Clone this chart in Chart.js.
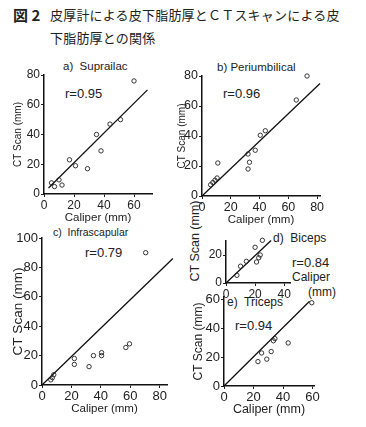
<!DOCTYPE html>
<html>
<head>
<meta charset="utf-8">
<script src="https://cdn.jsdelivr.net/npm/chart.js@4.4.0/dist/chart.umd.min.js"></script>
<style>
  html, body { margin: 0; padding: 0; background: #fff; }
  body { width: 366px; height: 427px; position: relative; overflow: hidden;
         font-family: "Liberation Sans", Arial, sans-serif; color: #222; }
  .txt { position: absolute; white-space: nowrap; line-height: 1; transform: translateY(-50%); }
  .vt  { position: absolute; white-space: nowrap; line-height: 1; transform: translate(-50%, -50%) rotate(-90deg); }
  .jp  { position: absolute; white-space: nowrap; font-family: "Noto Sans CJK JP", sans-serif;
         color: #222; line-height: 16px; }
</style>
</head>
<body>
<div class="jp" style="left:13px;top:7px;font-size:15px;font-weight:bold;">図 2</div>
<div class="jp" style="left:50px;top:7px;font-size:13px;letter-spacing:0.2px;">皮厚計による皮下脂肪厚とＣＴスキャンによる皮</div>
<div class="jp" style="left:50px;top:30px;font-size:13px;letter-spacing:0.2px;">下脂肪厚との関係</div>

<div class="txt" style="left:63px;top:67px;font-size:11.5px;">a)&nbsp; Suprailac</div>
<div class="txt" style="left:65px;top:93px;font-size:13px;">r=0.95</div>
<div class="txt" style="left:217px;top:68px;font-size:11.5px;">b) Periumbilical</div>
<div class="txt" style="left:223px;top:93px;font-size:13px;">r=0.96</div>
<div class="txt" style="left:53px;top:232px;font-size:10.5px;">c)&nbsp; Infrascapular</div>
<div class="txt" style="left:85px;top:252px;font-size:13px;">r=0.79</div>
<div class="txt" style="left:273px;top:238px;font-size:12px;">d)&nbsp;&nbsp;Biceps</div>
<div class="txt" style="left:292px;top:262px;font-size:13px;">r=0.84</div>
<div class="txt" style="left:292px;top:277px;font-size:12px;">Caliper</div>
<div class="txt" style="left:308px;top:292px;font-size:12px;">(mm)</div>
<div class="vt"  style="left:195px;top:241px;font-size:12.5px;">CT Scan (mm)</div>
<div class="txt" style="left:227px;top:302px;font-size:12px;">e)&nbsp; Triceps</div>
<div class="txt" style="left:235px;top:325px;font-size:13px;">r=0.94</div>

<script>
// a) Suprailac
const supX = [60, 51, 44, 35, 38, 17, 21, 29, 10, 5, 7, 12];
const supY = [76, 50, 47, 40, 29, 23, 19, 17, 9.5, 7.5, 5, 6];
const supFitX = [3, 69];
const supFitY = [4, 70];

// b) Periumbilical
const perX = [73, 65.5, 44, 40.5, 37, 32, 33, 32, 11, 10.5, 9, 7.5, 6];
const perY = [80, 64, 43.5, 40.5, 30.5, 28, 22.5, 18, 22, 12, 10.5, 9, 7.5];
const perFitX = [0, 82];
const perFitY = [0, 75];

// c) Infrascapular
const infX = [70.5, 59.5, 57, 40.5, 40.5, 35, 32, 22, 22, 8, 7, 6];
const infY = [90, 28, 25.5, 22, 20, 20, 12.5, 18, 14, 7, 5, 3.5];
const infFitX = [0, 89];
const infFitY = [0, 86];

// d) Biceps
const bicX = [25, 20, 23.5, 22.5, 21, 14, 10, 7.5];
const bicY = [30.5, 25.5, 20, 18, 15, 15.5, 12, 5.5];
const bicFitX = [0, 31];
const bicFitY = [0, 30.4];

// e) Triceps
const triX = [59.5, 43.5, 34.5, 33.5, 32, 25.5, 29, 23];
const triY = [58, 30, 33, 31.5, 24, 23, 18.7, 17];
const triFitX = [0, 58];
const triFitY = [0, 59];

const xTitleText = 'Caliper (mm)';
const yTitleText = 'CT Scan (mm)';

// where each little plot sits on the page
const panels = [
  { xs: supX, ys: supY, fx: supFitX, fy: supFitY, xMax: 72, yMax: 80,
    plot: { l: 44, t: 75, r: 152, b: 194 }, yw: 32, xh: 31, tick: 12, yTitle: 10, xTitle: 11.5 },
  { xs: perX, ys: perY, fx: perFitX, fy: perFitY, xMax: 82, yMax: 80,
    plot: { l: 202, t: 76, r: 320, b: 196 }, yw: 26, xh: 31, tick: 12.5, yTitle: 10, xTitle: 11.5 },
  { xs: infX, ys: infY, fx: infFitX, fy: infFitY, xMax: 85, yMax: 100,
    plot: { l: 42, t: 238, r: 167, b: 385 }, yw: 32, xh: 31, tick: 13, yTitle: 13.5, xTitle: 11.5 },
  { xs: bicX, ys: bicY, fx: bicFitX, fy: bicFitY, xMax: 44, yMax: 30,
    plot: { l: 226, t: 241, r: 290, b: 283 }, yw: 26, xh: 20, tick: 12, yTitle: 0, xTitle: 0 },
  { xs: triX, ys: triY, fx: triFitX, fy: triFitY, xMax: 61, yMax: 62,
    plot: { l: 224, t: 297, r: 314, b: 386 }, yw: 33, xh: 31, tick: 13, yTitle: 12, xTitle: 12.5 }
];

function axisTitle(text, size) {
  if (!size) return { display: false };
  return { display: true, text: text, color: '#222', padding: 0,
           font: { family: 'Liberation Sans', size: size } };
}

function makePanel(p) {
  const padTop = 9, padRight = 10;
  const left = p.plot.l - p.yw;
  const top = p.plot.t - padTop;
  const w = p.plot.r + padRight - left;
  const h = p.plot.b + p.xh - top;

  const cv = document.createElement('canvas');
  cv.width = w;
  cv.height = h;
  cv.style.cssText = `position:absolute;left:${left}px;top:${top}px;width:${w}px;height:${h}px;`;
  document.body.appendChild(cv);

  const tickFont = { family: 'Liberation Sans', size: p.tick };

  new Chart(cv, {
    type: 'scatter',
    data: {
      datasets: [
        {
          data: p.xs.map((x, i) => ({ x: x, y: p.ys[i] })),
          pointRadius: 2.2,
          borderWidth: 0.9,
          pointBorderWidth: 0.9,
          borderColor: '#222',
          backgroundColor: 'rgba(255,255,255,0)',
          clip: false
        },
        {
          data: p.fx.map((x, i) => ({ x: x, y: p.fy[i] })),
          showLine: true,
          pointRadius: 0,
          borderColor: '#111',
          borderWidth: 1.3,
          clip: false
        }
      ]
    },
    options: {
      responsive: false,
      animation: false,
      devicePixelRatio: 1,
      layout: { padding: { top: padTop, right: padRight, left: 0, bottom: 0 } },
      plugins: { legend: { display: false }, tooltip: { enabled: false } },
      scales: {
        x: {
          type: 'linear', min: 0, max: p.xMax,
          ticks: { stepSize: 20, includeBounds: false, autoSkip: false, maxRotation: 0,
                   padding: 1, color: '#222', font: tickFont },
          grid: { drawOnChartArea: false, tickLength: 3, color: '#222' },
          border: { color: '#111', width: 1.5 },
          title: axisTitle(xTitleText, p.xTitle),
          afterFit: s => { s.height = p.xh; }
        },
        y: {
          type: 'linear', min: 0, max: p.yMax,
          ticks: { stepSize: 20, includeBounds: false, autoSkip: false,
                   padding: 1, color: '#222', font: tickFont },
          grid: { drawOnChartArea: false, tickLength: 3, color: '#222' },
          border: { color: '#111', width: 1.5 },
          title: axisTitle(yTitleText, p.yTitle),
          afterFit: s => { s.width = p.yw; }
        }
      }
    }
  });
}

panels.forEach(makePanel);
</script>
</body>
</html>
